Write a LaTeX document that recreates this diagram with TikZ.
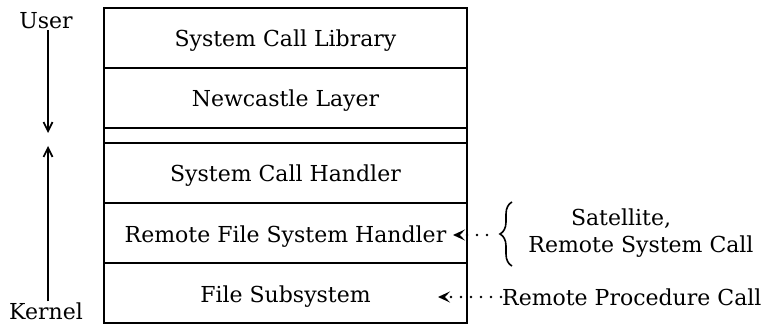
\documentclass[tikz,border=0pt]{standalone}
\usepackage{fontspec}
\setmainfont{DejaVu Serif}
\usetikzlibrary{positioning,arrows.meta,decorations.pathreplacing}

\tikzset{
    layer/.style={draw, line width=1.8pt, minimum width=363pt, minimum height=60pt,
        inner sep=0pt, outer sep=0pt, text height=20pt, text depth=2pt,
        font=\fontsize{22}{26}\selectfont},
    side/.style={font=\fontsize{22}{26}\selectfont, inner sep=1pt},
    flow/.style={line width=1.7pt, -{Straight Barb[length=9pt,width=9pt]}},
    hint/.style={line width=2.6pt, line cap=round, dash pattern=on 0pt off 10pt,
        -{Stealth[length=12pt,width=11pt,inset=5pt,open,line width=1.8pt]}}
}

\begin{document}
\begin{tikzpicture}[x=1pt,y=1pt]
    \useasboundingbox (0,0) rectangle (774,-326);

    % Schichten
    \node[layer] (lib) at (285.5,-38) {System Call Library};
    \node[layer, below=0pt of lib] (ncl) {Newcastle Layer};
    \node[layer, minimum height=15pt, text height=0pt, text depth=0pt,
        below=0pt of ncl] (gap) {};
    \node[layer, below=0pt of gap] (sch) {System Call Handler};
    \node[layer, below=0pt of sch] (rfsh) {Remote File System Handler};
    \node[layer, below=0pt of rfsh] (fss) {File Subsystem};

    % User / Kernel
    \node[side] (user) at (46,-21) {User};
    \node[side] (kernel) at (46,-311) {Kernel};
    \coordinate (down) at (48,-133);
    \coordinate (up) at (48,-146);
    \draw[flow] (user.south -| down) -- (down);
    \draw[flow] (kernel.north -| up) -- (up);

    % Remote Aufrufe
    \draw[line width=1.6pt, decorate, decoration={brace, amplitude=12pt}]
        (512,-266) -- (512,-202) coordinate (bracetop);
    \coordinate (brace) at (487,-235);
    \node[side] (sat) at (621,-219) {Satellite,};
    \node[side] (rsc) at (641,-247) {Remote System Call};
    \node[side, anchor=west] (rpc) at (501,-297) {Remote Procedure Call};
    \coordinate (rfshin) at ([xshift=-14pt]rfsh.east |- brace);
    \coordinate (fssin) at ([xshift=-29pt]fss.east |- rpc);
    \draw[hint] (brace) -- (rfshin);
    \draw[hint] (rpc.west) -- (fssin);
\end{tikzpicture}
\end{document}
